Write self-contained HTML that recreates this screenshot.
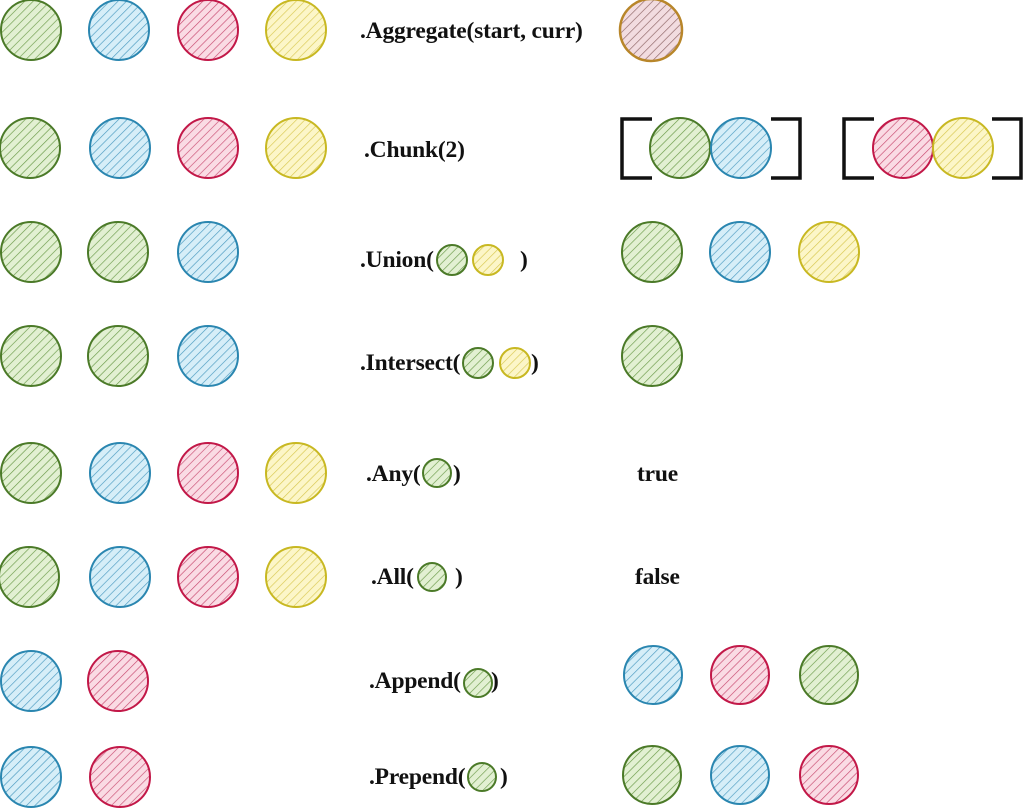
<!DOCTYPE html>
<html><head><meta charset="utf-8"><style>
html,body{margin:0;padding:0;background:#fff;}
svg{display:block}
text{font-family:"Liberation Serif",serif;font-weight:bold;font-size:23.5px;fill:#111;letter-spacing:-0.2px}
.g{fill:url(#hg);stroke:#4b7a28;stroke-width:2}
.b{fill:url(#hb);stroke:#2a86b0;stroke-width:2}
.r{fill:url(#hr);stroke:#c21848;stroke-width:2}
.y{fill:url(#hy);stroke:#c8b822;stroke-width:2}
.o{fill:url(#ho);stroke:#b8862a;stroke-width:2.5}
.br{fill:none;stroke:#111;stroke-width:3.5}
</style></head><body>
<svg width="1024" height="808" viewBox="0 0 1024 808" xmlns="http://www.w3.org/2000/svg">
<defs>
<pattern id="hg" width="6" height="6" patternUnits="userSpaceOnUse" patternTransform="rotate(45)"><rect width="6" height="6" fill="#e2f0d2"/><line x1="0" y1="0" x2="0" y2="6" stroke="#6a9a48" stroke-width="1.3"/></pattern>
<pattern id="hb" width="6" height="6" patternUnits="userSpaceOnUse" patternTransform="rotate(45)"><rect width="6" height="6" fill="#d6eef8"/><line x1="0" y1="0" x2="0" y2="6" stroke="#4a9ac0" stroke-width="1.3"/></pattern>
<pattern id="hr" width="6" height="6" patternUnits="userSpaceOnUse" patternTransform="rotate(45)"><rect width="6" height="6" fill="#fadbe4"/><line x1="0" y1="0" x2="0" y2="6" stroke="#c84a70" stroke-width="1.3"/></pattern>
<pattern id="hy" width="6" height="6" patternUnits="userSpaceOnUse" patternTransform="rotate(45)"><rect width="6" height="6" fill="#fcf6c8"/><line x1="0" y1="0" x2="0" y2="6" stroke="#d8c850" stroke-width="1.3"/></pattern>
<pattern id="ho" width="6" height="6" patternUnits="userSpaceOnUse" patternTransform="rotate(45)"><rect width="6" height="6" fill="#f2dce0"/><line x1="0" y1="0" x2="0" y2="6" stroke="#8a6060" stroke-width="1.3"/></pattern>
</defs>

<!-- Row 1 -->
<circle class="g" cx="31" cy="30" r="30"/><circle class="b" cx="119" cy="30" r="30"/><circle class="r" cx="208" cy="30" r="30"/><circle class="y" cx="296" cy="30" r="30"/>
<text x="360" y="38">.Aggregate(start, curr)</text>
<circle class="o" cx="651" cy="30" r="31"/>

<!-- Row 2 -->
<circle class="g" cx="30" cy="148" r="30"/><circle class="b" cx="120" cy="148" r="30"/><circle class="r" cx="208" cy="148" r="30"/><circle class="y" cx="296" cy="148" r="30"/>
<text x="364" y="157">.Chunk(2)</text>
<polyline class="br" points="652,119 622,119 622,178 652,178"/>
<circle class="g" cx="680" cy="148" r="30"/><circle class="b" cx="741" cy="148" r="30"/>
<polyline class="br" points="771,119 800,119 800,178 771,178"/>
<polyline class="br" points="874,119 844,119 844,178 874,178"/>
<circle class="r" cx="903" cy="148" r="30"/><circle class="y" cx="963" cy="148" r="30"/>
<polyline class="br" points="992,119 1021,119 1021,178 992,178"/>

<!-- Row 3 -->
<circle class="g" cx="31" cy="252" r="30"/><circle class="g" cx="118" cy="252" r="30"/><circle class="b" cx="208" cy="252" r="30"/>
<text x="360" y="267">.Union(</text>
<circle class="g" cx="452" cy="260" r="15"/><circle class="y" cx="488" cy="260" r="15"/>
<text x="520" y="267">)</text>
<circle class="g" cx="652" cy="252" r="30"/><circle class="b" cx="740" cy="252" r="30"/><circle class="y" cx="829" cy="252" r="30"/>

<!-- Row 4 -->
<circle class="g" cx="31" cy="356" r="30"/><circle class="g" cx="118" cy="356" r="30"/><circle class="b" cx="208" cy="356" r="30"/>
<text x="360" y="370">.Intersect(</text>
<circle class="g" cx="478" cy="363" r="15"/><circle class="y" cx="515" cy="363" r="15"/>
<text x="531" y="370">)</text>
<circle class="g" cx="652" cy="356" r="30"/>

<!-- Row 5 -->
<circle class="g" cx="31" cy="473" r="30"/><circle class="b" cx="120" cy="473" r="30"/><circle class="r" cx="208" cy="473" r="30"/><circle class="y" cx="296" cy="473" r="30"/>
<text x="366" y="481">.Any(</text>
<circle class="g" cx="437" cy="473" r="14"/>
<text x="453" y="481">)</text>
<text x="637" y="481">true</text>

<!-- Row 6 -->
<circle class="g" cx="29" cy="577" r="30"/><circle class="b" cx="120" cy="577" r="30"/><circle class="r" cx="208" cy="577" r="30"/><circle class="y" cx="296" cy="577" r="30"/>
<text x="371" y="584">.All(</text>
<circle class="g" cx="432" cy="577" r="14"/>
<text x="455" y="584">)</text>
<text x="635" y="584">false</text>

<!-- Row 7 -->
<circle class="b" cx="31" cy="681" r="30"/><circle class="r" cx="118" cy="681" r="30"/>
<text x="369" y="688">.Append(</text>
<circle class="g" cx="478" cy="683" r="14"/>
<text x="491" y="688">)</text>
<circle class="b" cx="653" cy="675" r="29"/><circle class="r" cx="740" cy="675" r="29"/><circle class="g" cx="829" cy="675" r="29"/>

<!-- Row 8 -->
<circle class="b" cx="31" cy="777" r="30"/><circle class="r" cx="120" cy="777" r="30"/>
<text x="369" y="784">.Prepend(</text>
<circle class="g" cx="482" cy="777" r="14"/>
<text x="500" y="784">)</text>
<circle class="g" cx="652" cy="775" r="29"/><circle class="b" cx="740" cy="775" r="29"/><circle class="r" cx="829" cy="775" r="29"/>
</svg>
</body></html>
